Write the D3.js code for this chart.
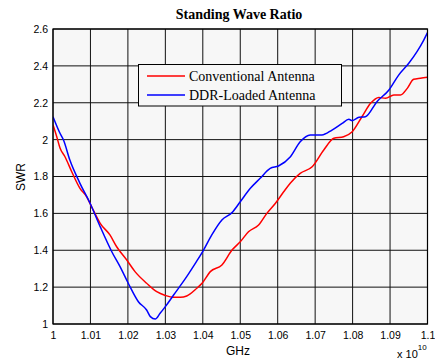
<!DOCTYPE html>
<html>
<head>
<meta charset="utf-8">
<script src="https://cdn.jsdelivr.net/npm/d3@7"></script>
<style>
  html, body { margin: 0; padding: 0; background: #fff; }
  svg { display: block; }
</style>
</head>
<body>
<svg id="chart" width="435" height="361"></svg>
<script>
// Frequency in units of 1e10 Hz, SWR unitless
const freqConv = [1.0000, 1.0010, 1.0019, 1.0032, 1.0050, 1.0072, 1.0090, 1.0103, 1.0126, 1.0152,
  1.0170, 1.0197, 1.0219, 1.0250, 1.0277, 1.0300, 1.0322, 1.0340, 1.0357, 1.0384,
  1.0398, 1.0420, 1.0451, 1.0478, 1.0500, 1.0522, 1.0549, 1.0571, 1.0594, 1.0616,
  1.0634, 1.0660, 1.0692, 1.0723, 1.0750, 1.0776, 1.0799, 1.0825, 1.0848, 1.0870,
  1.0888, 1.0910, 1.0928, 1.0946, 1.0963, 1.0981, 1.1000];
const swrConv = [2.080, 2.016, 1.953, 1.907, 1.826, 1.736, 1.690, 1.636, 1.546, 1.483,
  1.419, 1.347, 1.284, 1.221, 1.175, 1.155, 1.145, 1.145, 1.152, 1.194,
  1.221, 1.284, 1.320, 1.401, 1.446, 1.500, 1.537, 1.600, 1.655, 1.717,
  1.765, 1.817, 1.853, 1.944, 2.007, 2.016, 2.043, 2.124, 2.197, 2.229,
  2.224, 2.242, 2.242, 2.278, 2.327, 2.333, 2.338];

const freqDdr = [1.0000, 1.0019, 1.0028, 1.0045, 1.0072, 1.0099, 1.0126, 1.0157, 1.0179, 1.0201,
  1.0228, 1.0250, 1.0260, 1.0273, 1.0286, 1.0300, 1.0322, 1.0357, 1.0380, 1.0402,
  1.0424, 1.0451, 1.0478, 1.0500, 1.0527, 1.0553, 1.0580, 1.0602, 1.0634, 1.0660,
  1.0687, 1.0718, 1.0745, 1.0772, 1.0790, 1.0799, 1.0817, 1.0834, 1.0865, 1.0897,
  1.0923, 1.0950, 1.0972, 1.0990, 1.1000];
const swrDdr = [2.124, 2.033, 1.998, 1.889, 1.763, 1.655, 1.528, 1.392, 1.311, 1.221,
  1.121, 1.076, 1.040, 1.027, 1.058, 1.094, 1.157, 1.257, 1.329, 1.401,
  1.483, 1.564, 1.604, 1.663, 1.736, 1.790, 1.844, 1.857, 1.907, 1.988,
  2.025, 2.025, 2.052, 2.088, 2.110, 2.103, 2.121, 2.124, 2.206, 2.269,
  2.350, 2.414, 2.477, 2.540, 2.580];

const xTicks = [1, 1.01, 1.02, 1.03, 1.04, 1.05, 1.06, 1.07, 1.08, 1.09, 1.1];
const yTicks = [1, 1.2, 1.4, 1.6, 1.8, 2, 2.2, 2.4, 2.6];
const seriesNames = ["Conventional Antenna", "DDR-Loaded Antenna"];
const seriesColors = ["#ff0000", "#0000ff"];

const svg = d3.select("#chart");
const plot = { left: 53, right: 427.5, top: 29, bottom: 324 };

const x = d3.scaleLinear().domain([1, 1.1]).range([plot.left, plot.right]);
const y = d3.scaleLinear().domain([1, 2.6]).range([plot.bottom, plot.top]);

const sansFont = "'Liberation Sans', Arial, sans-serif";
const serifFont = "'Liberation Serif', 'Times New Roman', serif";

// plot background
svg.append("rect")
  .attr("x", plot.left).attr("y", plot.top)
  .attr("width", plot.right - plot.left).attr("height", plot.bottom - plot.top)
  .attr("fill", "#f7f7f7");

// grid
const grid = svg.append("g").attr("stroke", "#111").attr("stroke-width", 1);
grid.selectAll("line.v").data(xTicks).join("line")
  .attr("x1", d => x(d)).attr("x2", d => x(d))
  .attr("y1", plot.top).attr("y2", plot.bottom);
grid.selectAll("line.h").data(yTicks).join("line")
  .attr("x1", plot.left).attr("x2", plot.right)
  .attr("y1", d => y(d)).attr("y2", d => y(d));

// axes (labels only; ticks coincide with the grid)
const xAxis = d3.axisBottom(x).tickValues(xTicks).tickSize(0).tickPadding(8)
  .tickFormat(d3.format("~g"));
svg.append("g").attr("transform", `translate(0,${plot.bottom})`).call(xAxis)
  .call(g => g.select(".domain").remove())
  .selectAll("text").attr("font-family", sansFont).attr("font-size", 10.5).attr("fill", "#000");

const yAxis = d3.axisLeft(y).tickValues(yTicks).tickSize(0).tickPadding(5)
  .tickFormat(d3.format("~g"));
svg.append("g").attr("transform", `translate(${plot.left},0)`).call(yAxis)
  .call(g => g.select(".domain").remove())
  .selectAll("text").attr("font-family", sansFont).attr("font-size", 10.5).attr("fill", "#000");

// series
const line = d3.line().x(d => x(d[0])).y(d => y(d[1])).curve(d3.curveMonotoneX);
const seriesData = [
  d3.zip(freqConv, swrConv),
  d3.zip(freqDdr, swrDdr)
];
svg.append("defs").append("clipPath").attr("id", "plotClip")
  .append("rect").attr("x", plot.left).attr("y", plot.top - 2)
  .attr("width", plot.right - plot.left + 1).attr("height", plot.bottom - plot.top + 2);
svg.append("g").attr("clip-path", "url(#plotClip)")
  .selectAll("path").data(seriesData).join("path")
  .attr("d", line)
  .attr("fill", "none")
  .attr("stroke", (d, i) => seriesColors[i])
  .attr("stroke-width", 1.5);

// plot frame
svg.append("rect")
  .attr("x", plot.left).attr("y", plot.top)
  .attr("width", plot.right - plot.left).attr("height", plot.bottom - plot.top)
  .attr("fill", "none").attr("stroke", "#000").attr("stroke-width", 1.2);

// legend
const legend = svg.append("g");
legend.append("rect")
  .attr("x", 138.5).attr("y", 64.5).attr("width", 203).attr("height", 41.5)
  .attr("fill", "#f7f7f7").attr("stroke", "#000").attr("stroke-width", 1);
seriesNames.forEach((name, i) => {
  const ly = 76 + i * 19;
  legend.append("line")
    .attr("x1", 147).attr("x2", 185).attr("y1", ly).attr("y2", ly)
    .attr("stroke", seriesColors[i]).attr("stroke-width", 1.5);
  legend.append("text")
    .attr("x", 189).attr("y", ly + 5)
    .attr("font-family", serifFont).attr("font-size", 14)
    .attr("fill", "#000").text(name);
});

// title and axis titles
svg.append("text")
  .attr("x", 239).attr("y", 19).attr("text-anchor", "middle")
  .attr("font-family", serifFont).attr("font-size", 14).attr("font-weight", "bold")
  .text("Standing Wave Ratio");

svg.append("text")
  .attr("transform", "translate(25,177) rotate(-90)").attr("text-anchor", "middle")
  .attr("font-family", sansFont).attr("font-size", 12).text("SWR");

svg.append("text")
  .attr("x", 238).attr("y", 355).attr("text-anchor", "middle")
  .attr("font-family", sansFont).attr("font-size", 12).text("GHz");

const expo = svg.append("text")
  .attr("x", 397).attr("y", 358)
  .attr("font-family", sansFont).attr("font-size", 11);
expo.append("tspan").text("x 10");
expo.append("tspan").attr("dy", -8).attr("font-size", 8).text("10");
</script>
</body>
</html>
